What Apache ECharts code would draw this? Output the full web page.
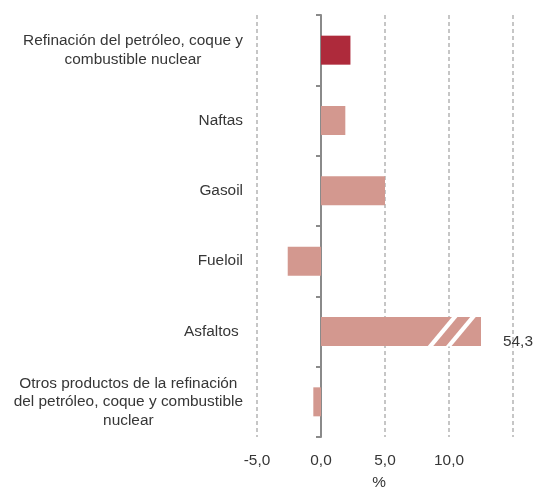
<!DOCTYPE html>
<html>
<head>
<meta charset="utf-8">
<script src="https://cdn.jsdelivr.net/npm/echarts@6/dist/echarts.min.js"></script>
<style>
html,body{margin:0;padding:0;background:#fff;}
#chart{width:535px;height:488px;}
</style>
</head>
<body>
<div id="chart"></div>
<script>
// ---- data ----
const categories = [
  'Refinación del petróleo, coque y\ncombustible nuclear',
  'Naftas',
  'Gasoil',
  'Fueloil',
  'Asfaltos ',
  'Otros productos de la refinación\ndel petróleo, coque y combustible\nnuclear'
];
const values = [2.3, 1.9, 5.0, -2.6, 54.3, -0.6];
const highlighted = [true, false, false, false, false, false];
const axisCap = 12.5;               // drawn length of the broken bar
const breakMarks = [9.5, 10.93];    // centre values of the break stripes
const xTicks = [-5, 0, 5, 10, 15];
const xTickLabels = ['-5,0', '0,0', '5,0', '10,0', ''];

// ---- styles ----
const FONT = '"Liberation Sans", Arial, sans-serif';
const FS = 15.4;
const TEXT = '#363636';
const DARK = '#ae2a3b';
const LIGHT = '#d3988f';
const BAR_H = 29;

const chart = echarts.init(document.getElementById('chart'), null, {renderer: 'canvas'});

const barData = values.map((v, i) => ({
  value: Math.min(v, axisCap),
  itemStyle: {color: highlighted[i] ? DARK : LIGHT},
  label: v > axisCap ? {
    show: true,
    position: 'right',
    distance: 22,
    offset: [0, 10],
    formatter: () => v.toFixed(1).replace('.', ','),
    color: TEXT, fontSize: FS, fontFamily: FONT
  } : {show: false}
}));

const brokenIndex = values.findIndex(v => v > axisCap);
const breakData = breakMarks.map(b => [b, brokenIndex]);

chart.setOption({
  animation: false,
  grid: {left: 257, right: 22, top: 15, bottom: 51, containLabel: false, outerBoundsMode: 'none'},
  xAxis: {
    type: 'value',
    min: xTicks[0],
    max: xTicks[xTicks.length - 1],
    interval: 5,
    axisLine: {show: false},
    axisTick: {show: false},
    splitLine: {show: true, lineStyle: {color: '#b4b4b4', width: 1.5, type: [4, 3]}},
    axisLabel: {
      margin: 16,
      color: TEXT, fontSize: FS, fontFamily: FONT,
      formatter: v => xTickLabels[xTicks.indexOf(v)] ?? ''
    },
    name: '%',
    nameLocation: 'middle',
    nameGap: 38,
    nameTextStyle: {color: TEXT, fontSize: FS, fontFamily: FONT, padding: [0, 12, 0, 0]}
  },
  yAxis: {
    type: 'category',
    inverse: true,
    data: categories,
    axisLine: {show: true, onZero: true, lineStyle: {color: '#8a8a8a', width: 2}},
    axisTick: {show: true, length: 5, inside: false, lineStyle: {color: '#8a8a8a', width: 2}},
    splitLine: {show: false},
    axisLabel: {
      margin: 14,
      align: 'right',
      formatter: v => v.split('\n').map(l => '{c|' + l + '}').join('\n'),
      rich: {
        c: {align: 'center', color: TEXT, fontSize: FS, lineHeight: 18.5, fontFamily: FONT}
      }
    }
  },
  series: [
    {
      type: 'bar',
      data: barData,
      barWidth: BAR_H,
      z: 2
    },
    {
      type: 'custom',
      data: breakData,
      encode: {x: 0, y: 1},
      silent: true,
      clip: false,
      z: 5,
      renderItem: (params, api) => {
        const c = api.coord([api.value(0), api.value(1)]);
        const h = BAR_H / 2 + 0.5;
        const slant = 12.5;
        const w = 5.5;
        return {
          type: 'polygon',
          shape: {points: [
            [c[0] - slant - w / 2, c[1] + h],
            [c[0] - slant + w / 2, c[1] + h],
            [c[0] + slant + w / 2, c[1] - h],
            [c[0] + slant - w / 2, c[1] - h]
          ]},
          style: {fill: '#ffffff'}
        };
      }
    }
  ]
});
</script>
</body>
</html>
